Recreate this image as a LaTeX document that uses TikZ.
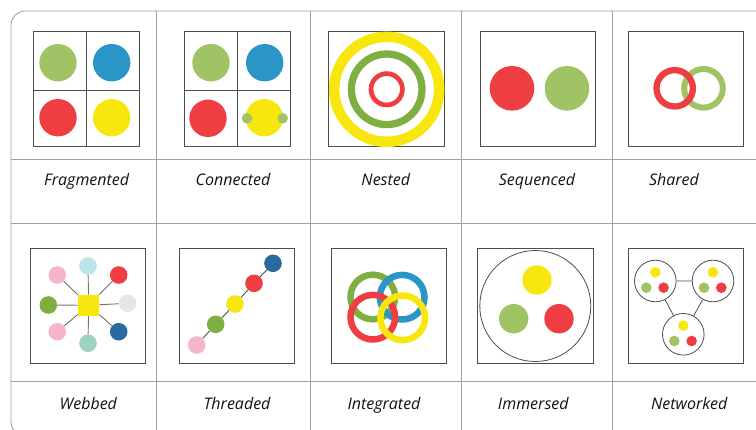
\documentclass[tikz,border=0pt]{standalone}
\usepackage{fontspec}
\setmainfont{Open Sans}
\definecolor{gridc}{HTML}{A0A0A0}
\definecolor{boxc}{HTML}{4D4D4D}
\definecolor{lgreen}{HTML}{A0C465}
\definecolor{dgreen}{HTML}{7FAE41}
\definecolor{cblue}{HTML}{2A96C8}
\definecolor{cred}{HTML}{EF3E42}
\definecolor{cyellow}{HTML}{F7E70E}
\definecolor{cpink}{HTML}{F5B5CC}
\definecolor{clblue}{HTML}{BDE3EB}
\definecolor{cgray}{HTML}{E6E6E6}
\definecolor{cdblue}{HTML}{2A6AA0}
\definecolor{cmint}{HTML}{9DD3BF}
\definecolor{txt}{HTML}{111111}
\tikzset{
  gridline/.style={draw=gridc, line width=0.9pt},
  frame/.style={draw=boxc, line width=0.9pt, rectangle, inner sep=0pt},
  dot/.style={circle, inner sep=0pt, minimum size=#1},
  lbl/.style={anchor=base, font=\fontsize{16}{19}\selectfont\itshape, text=txt, inner sep=0pt},
  link/.style={draw=boxc!80, line width=0.9pt},
  netc/.style={circle, draw=boxc, line width=0.8pt, minimum size=41.6pt, inner sep=0pt}
}
\begin{document}
\begin{tikzpicture}[x=1pt,y=-1pt]
\useasboundingbox (0,0) rectangle (756,429);
\begin{scope}
\clip (0,0) rectangle (756,429);
% outer frame and grid
\draw[gridline, rounded corners=14pt] (11,11) rectangle (790,436);
\draw[gridline] (11,159) -- (790,159);
\draw[gridline] (11,223) -- (790,223);
\draw[gridline] (11,381) -- (790,381);
\foreach \xx in {156,310,461,612} \draw[gridline] (\xx,11) -- (\xx,436);

% ---------- Fragmented
\node[frame, minimum width=106pt, minimum height=115.5pt] (fbox) at (86,89) {};
\draw[boxc, line width=0.9pt] (86.3,31.2) -- (86.3,146.7) (33,90.3) -- (139,90.3);
\fill[lgreen] (58,62.7) circle (18.7);
\fill[cblue] (111.7,62.7) circle (18.7);
\fill[cred] (58,117.7) circle (18.7);
\fill[cyellow] (111.7,117.7) circle (18.7);
\node[lbl] (lfrag) at (86.7,185.3) {Fragmented};

% ---------- Connected
\node[frame, minimum width=106pt, minimum height=115.5pt] (cbox) at (237,89) {};
\draw[boxc, line width=0.9pt] (237.3,31.2) -- (237.3,146.7) (184,90.3) -- (290,90.3);
\fill[lgreen] (211,62.7) circle (18.7);
\fill[cblue] (264.7,62.7) circle (18.7);
\fill[cred] (208,118.3) circle (18.7);
\fill[cyellow] (264.3,117.7) circle (18.7);
\fill[lgreen] (247,118.3) circle (5.3);
\fill[lgreen] (282.7,118.3) circle (5.3);
\node[lbl] (lconn) at (233,185.3) {Connected};

% ---------- Nested
\node[frame, minimum size=115.5pt] (nbox) at (386.5,89) {};
\draw[cyellow, line width=10.5pt] (386.7,89.3) circle (52.5);
\draw[dgreen, line width=7.3pt] (386.7,89.3) circle (35.3);
\draw[cred, line width=4.7pt] (386.7,89.3) circle (15.7);
\node[lbl] (lnest) at (385.8,185.3) {Nested};

% ---------- Sequenced
\node[frame, minimum size=115.5pt] (sbox) at (538,89) {};
\fill[cred] (512,88.3) circle (22.3);
\fill[lgreen] (567,88.3) circle (22.3);
\node[lbl] (lseq) at (537,185.3) {Sequenced};

% ---------- Shared
\node[frame, minimum size=115.5pt] (shbox) at (685.7,89) {};
\draw[lgreen, line width=6pt] (703.5,88.3) circle (19.3);
\draw[cred, line width=6.3pt] (674.7,88.3) circle (18.2);
\node[lbl] (lshar) at (674,185.3) {Shared};

% ---------- Webbed
\node[frame, minimum size=115.5pt] (wbox) at (88,306) {};
\node[fill=cyellow, minimum size=21pt, inner sep=0pt] (wc) at (88.7,305.3) {};
\node[dot=17.6pt, fill=cpink]  (w1) at (57.3,275) {};
\node[dot=17.6pt, fill=clblue] (w2) at (88,266) {};
\node[dot=17.6pt, fill=cred]   (w3) at (118.7,275) {};
\node[dot=17.6pt, fill=cgray]  (w4) at (127.7,303.3) {};
\node[dot=17.6pt, fill=cdblue] (w5) at (118.7,331.7) {};
\node[dot=17.6pt, fill=cmint]  (w6) at (88,343.3) {};
\node[dot=17.6pt, fill=cpink]  (w7) at (57.3,331.7) {};
\node[dot=17.6pt, fill=dgreen] (w8) at (48.3,305) {};
\foreach \k in {1,...,8} \draw[link] (wc) -- (w\k);
\node[lbl] (lweb) at (88.3,409.3) {Webbed};

% ---------- Threaded
\node[frame, minimum size=115.5pt] (tbox) at (237,306) {};
\node[dot=17.6pt, fill=cpink]   (t1) at (196.7,345) {};
\node[dot=17.6pt, fill=dgreen]  (t2) at (215.7,324.3) {};
\node[dot=17.6pt, fill=cyellow] (t3) at (235,304) {};
\node[dot=17.6pt, fill=cred]    (t4) at (254,283.3) {};
\node[dot=17.6pt, fill=cdblue]  (t5) at (273,263.3) {};
\draw[draw=boxc, line width=0.9pt] (t1) -- (t2) (t2) -- (t3) (t3) -- (t4) (t4) -- (t5);
\node[lbl] (lthr) at (237,409.3) {Threaded};

% ---------- Integrated
\node[frame, minimum size=115.5pt] (ibox) at (388.7,306) {};
\draw[dgreen, line width=6.5pt]  (372.8,297) circle (22.3);
\draw[cblue, line width=6.5pt]   (402.2,297.2) circle (22.3);
\draw[cred, line width=6.5pt]    (372.8,317.2) circle (22.3);
\draw[cyellow, line width=6.5pt] (402.7,317.8) circle (22.3);
\node[lbl] (lint) at (384,409.3) {Integrated};

% ---------- Immersed
\node[frame, minimum size=115.5pt] (imbox) at (535.5,306) {};
\node[circle, draw=boxc, line width=0.8pt, minimum size=111pt, inner sep=0pt] (imc) at (535.3,306) {};
\fill[cyellow] (537,280) circle (14.7);
\fill[lgreen] (513.7,318.7) circle (14.7);
\fill[cred] (559,318.7) circle (14.7);
\node[lbl] (limm) at (533.3,409.3) {Immersed};

% ---------- Networked
\node[frame, minimum size=115.5pt] (netbox) at (685.7,306) {};
\foreach \nm/\cx/\cy in {n1/655.3/281, n2/713/281, n3/683.3/334.3}{
  \node[netc] (\nm) at (\cx,\cy) {};
  \fill[cyellow] (\cx,\cy-8.7) circle (5.3);
  \fill[lgreen] (\cx-9,\cy+6.7) circle (5.3);
  \fill[cred] (\cx+8.3,\cy+6.7) circle (5.3);
}
\draw[boxc, line width=0.8pt] (n1) -- (n2) (n1) -- (n3) (n2) -- (n3);
\node[lbl] (lnet) at (689.2,409.3) {Networked};
\end{scope}
\end{tikzpicture}
\end{document}
